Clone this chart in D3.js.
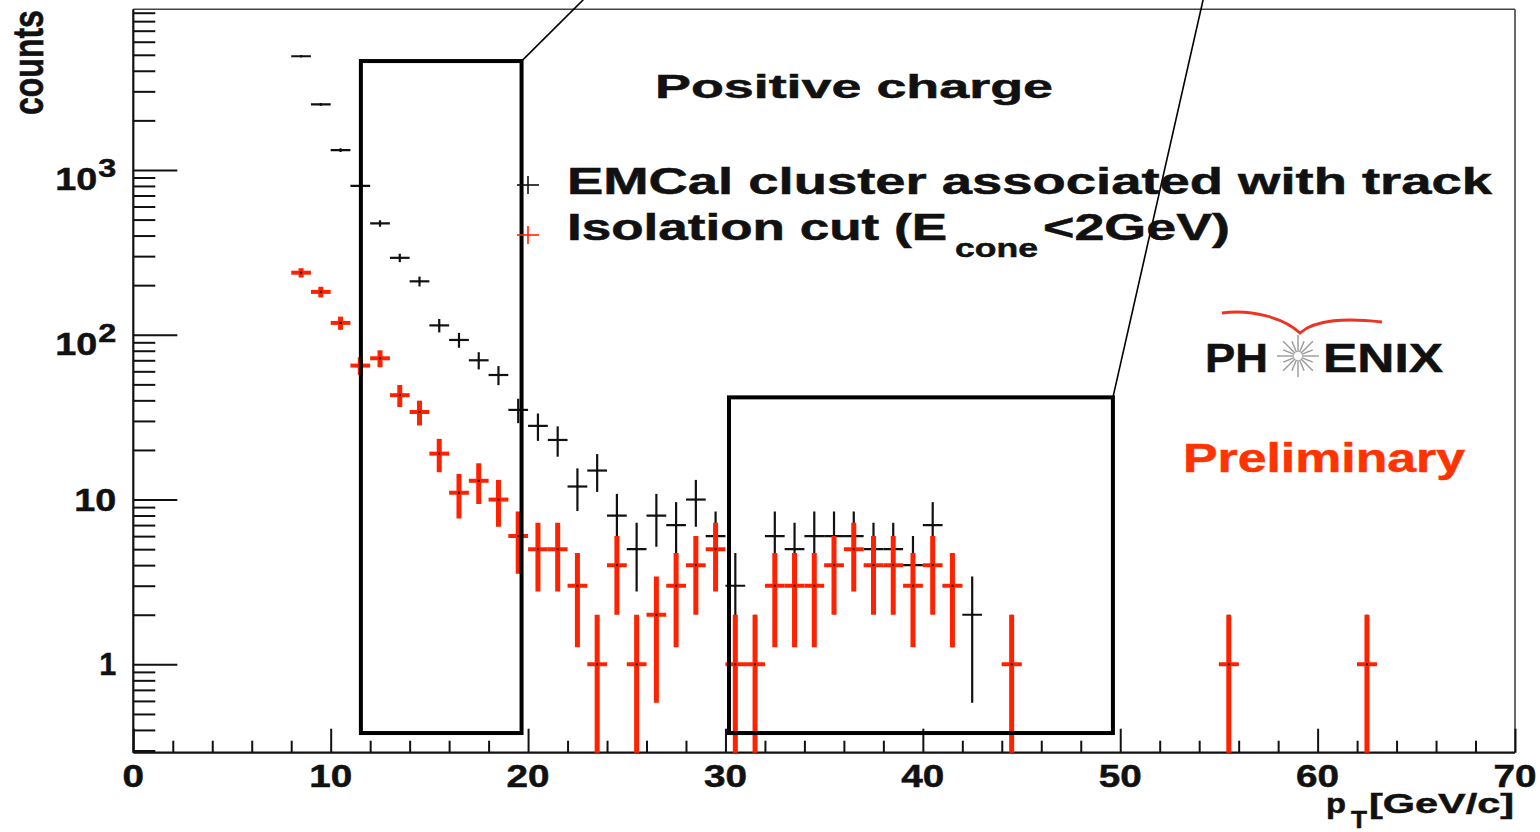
<!DOCTYPE html>
<html>
<head>
<meta charset="utf-8">
<script src="https://cdnjs.cloudflare.com/ajax/libs/d3/7.8.5/d3.min.js"></script>
<style>
  body { margin: 0; background: #fff; }
  text { font-family: 'Liberation Sans', Arial, Helvetica, sans-serif; font-weight: bold; }
</style>
</head>
<body>
<div id="chart"></div>
<script>
// pT bin centres [GeV/c] and counts (1 GeV bins)
const ptTrack = [8.5, 9.5, 10.5, 11.5, 12.5, 13.5, 14.5, 15.5, 16.5, 17.5, 18.5, 19.5, 20.5, 21.5, 22.5, 23.5, 24.5, 25.5, 26.5, 27.5, 28.5, 29.5, 30.5, 31.5, 32.5, 33.5, 34.5, 35.5, 36.5, 37.5, 38.5, 39.5, 40.5, 41.5, 42.5, 44.5, 55.5, 62.5]
const countsTrack = [4900, 2500, 1320, 800, 474, 293, 211, 114, 93, 70, 57, 35, 28, 23, 12, 15, 8, 5, 8, 7, 10, 6, 3, 1, 6, 5, 6, 6, 6, 5, 5, 4, 7, 3, 2, 1, 1, 1]

const ptIso = [8.5, 9.5, 10.5, 11.5, 12.5, 13.5, 14.5, 15.5, 16.5, 17.5, 18.5, 19.5, 20.5, 21.5, 22.5, 23.5, 24.5, 25.5, 26.5, 27.5, 28.5, 29.5, 30.5, 31.5, 32.5, 33.5, 34.5, 35.5, 36.5, 37.5, 38.5, 39.5, 40.5, 41.5, 44.5, 55.5, 62.5]
const countsIso = [238, 182, 118, 65, 72, 43, 34, 19, 11, 13, 10, 6, 5, 5, 3, 1, 4, 1, 2, 3, 4, 5, 1, 1, 3, 3, 3, 4, 5, 4, 4, 3, 4, 3, 1, 1, 1]

const binHalf = 0.5

// axis ranges and tick labels
const xDomain = [0, 70]
const yDomain = [0.291, 9440]
const xMajor = [0, 10, 20, 30, 40, 50, 60, 70]
const xMinorStep = 2
const yMajor = [1, 10, 100, 1000]
const yMajorLabels = ['1', '10', '10', '10']
const yMajorExp = ['', '', '2', '3']

// zoom boxes drawn on top of the plot: [pT from, pT to, counts low, counts high], plus where the lead line goes
const zoomBoxes = [
  { x0: 11.53, x1: 19.67, y0: 0.383, y1: 4580, lineTo: [22.8, 10800] },
  { x0: 30.18, x1: 49.63, y0: 0.383, y1: 41.7, lineTo: [54.2, 10800] }
]

const margin = { top: 9.3, right: 25, bottom: 79.3, left: 133.3 }
const width = 1540 - margin.left - margin.right
const height = 832 - margin.top - margin.bottom

const root = d3.select('#chart')
  .append('svg')
  .attr('width', 1540)
  .attr('height', 832)

const svg = root.append('g')
  .attr('transform', 'translate(' + margin.left + ',' + margin.top + ')')

const x = d3.scaleLinear().domain(xDomain).range([0, width])
const y = d3.scaleLog().domain(yDomain).range([height, 0])

// minor ticks for the log axis: 2..9 in every decade that is on the plot
const yMinor = []
for (let p = -1; p <= 3; p++) {
  for (let m = 2; m <= 9; m++) {
    const v = m * Math.pow(10, p)
    if (v >= yDomain[0] && v <= yDomain[1]) yMinor.push(v)
  }
}
const xMinor = d3.range(xDomain[0], xDomain[1] + 0.1, xMinorStep).filter(function (v) { return v % 10 !== 0 })

// frame
svg.append('line').attr('x1', 0).attr('x2', width).attr('y1', 0).attr('y2', 0)
  .attr('stroke', '#444').attr('stroke-width', 1.6)
svg.append('line').attr('x1', width).attr('x2', width).attr('y1', 0).attr('y2', height)
  .attr('stroke', '#444').attr('stroke-width', 1.6)

// ticks, pointing into the frame
function ticks (axis) {
  return function (g) {
    g.call(axis)
    g.select('.domain').remove()
    g.selectAll('.tick line').attr('stroke', '#111').attr('stroke-width', 2)
    g.selectAll('.tick text').remove()
  }
}
svg.append('g').call(ticks(d3.axisRight(y).tickValues(yMajor).tickSize(44)))
svg.append('g').call(ticks(d3.axisRight(y).tickValues(yMinor).tickSize(22)))
svg.append('g').attr('transform', 'translate(0,' + height + ')')
  .call(ticks(d3.axisTop(x).tickValues(xMajor).tickSize(24)))
svg.append('g').attr('transform', 'translate(0,' + height + ')')
  .call(ticks(d3.axisTop(x).tickValues(xMinor).tickSize(12)))

// axis lines
svg.append('line').attr('x1', 0).attr('x2', 0).attr('y1', 0).attr('y2', height)
  .attr('stroke', '#111').attr('stroke-width', 2.2)
svg.append('line').attr('x1', 0).attr('x2', width).attr('y1', height).attr('y2', height)
  .attr('stroke', '#111').attr('stroke-width', 2.2)

// bold text helper, with a thin outline so the glyphs look as heavy as the original
function label (parent, txt, xPos, yPos, size, len, colour) {
  const t = parent.append('text')
    .attr('x', xPos)
    .attr('y', yPos)
    .attr('font-size', size)
    .attr('fill', colour || '#111')
    .attr('stroke', colour || '#111')
    .attr('stroke-width', 0.5)
    .text(txt)
  if (len) t.attr('textLength', len).attr('lengthAdjust', 'spacingAndGlyphs')
  return t
}

// y tick labels
yMajor.forEach(function (v, i) {
  const hasExp = yMajorExp[i] !== ''
  label(svg, yMajorLabels[i], hasExp ? -36 : -17, y(v) + (hasExp ? 20 : 11), 32,
    yMajorLabels[i].length === 1 ? 17 : 42)
    .attr('text-anchor', 'end')
  if (hasExp) label(svg, yMajorExp[i], -35, y(v) + 7, 26, 18)
})

// x tick labels
xMajor.forEach(function (v) {
  const s = String(v)
  label(svg, s, x(v), height + 34, 31, s.length * 21.5)
    .attr('text-anchor', 'middle')
})

// axis titles
label(root, 'counts', 0, 0, 32, null)
  .attr('transform', 'translate(43,115) rotate(-90) scale(1,1.3)')

label(root, 'p', 1326, 813, 28, 20)
label(root, 'T', 1351, 828, 24, 16)
label(root, '[GeV/c]', 1369, 813, 28, 145)

// data
svg.append('clipPath').attr('id', 'plotclip')
  .append('rect').attr('width', width).attr('height', height)

const plot = svg.append('g').attr('clip-path', 'url(#plotclip)')

function drawSeries (pts, counts, colour, vWidth, hWidth) {
  const data = pts.map(function (p, i) { return { pt: p, n: counts[i] } })
  const g = plot.append('g')
  g.selectAll('.ev')
    .data(data)
    .join('line')
    .attr('x1', function (d) { return x(d.pt) })
    .attr('x2', function (d) { return x(d.pt) })
    .attr('y1', function (d) { return y(d.n + Math.sqrt(d.n)) })
    .attr('y2', function (d) { return y(Math.max(d.n - Math.sqrt(d.n), yDomain[0] * 0.5)) })
    .attr('stroke', colour)
    .attr('stroke-width', vWidth)
  g.selectAll('.eh')
    .data(data)
    .join('line')
    .attr('x1', function (d) { return x(d.pt - binHalf) })
    .attr('x2', function (d) { return x(d.pt + binHalf) })
    .attr('y1', function (d) { return y(d.n) })
    .attr('y2', function (d) { return y(d.n) })
    .attr('stroke', colour)
    .attr('stroke-width', hWidth)
  g.selectAll('.dot')
    .data(data)
    .join('rect')
    .attr('x', function (d) { return x(d.pt) - 1 })
    .attr('y', function (d) { return y(d.n) - 1 })
    .attr('width', 2)
    .attr('height', 2)
    .attr('fill', '#111')
}
drawSeries(ptTrack, countsTrack, '#111', 2.2, 2.2)
drawSeries(ptIso, countsIso, '#ff2200', 5, 4)

// zoom boxes and lead lines
zoomBoxes.forEach(function (b) {
  svg.append('rect')
    .attr('x', x(b.x0))
    .attr('y', y(b.y1))
    .attr('width', x(b.x1) - x(b.x0))
    .attr('height', y(b.y0) - y(b.y1))
    .attr('fill', 'none')
    .attr('stroke', '#000')
    .attr('stroke-width', 4)
  svg.append('line')
    .attr('x1', x(b.x1))
    .attr('y1', y(b.y1))
    .attr('x2', x(b.lineTo[0]))
    .attr('y2', y(b.lineTo[1]))
    .attr('stroke', '#000')
    .attr('stroke-width', 1.6)
})

// legend
label(root, 'Positive charge', 655, 98, 33, 398)

const legend = [
  { colour: '#111', y: 185 },
  { colour: '#ff2200', y: 235 }
]
legend.forEach(function (l) {
  root.append('line').attr('x1', 517).attr('x2', 539).attr('y1', l.y).attr('y2', l.y)
    .attr('stroke', l.colour).attr('stroke-width', 1.6)
  root.append('line').attr('x1', 528).attr('x2', 528).attr('y1', l.y - 9).attr('y2', l.y + 9)
    .attr('stroke', l.colour).attr('stroke-width', 1.6)
})
label(root, 'EMCal cluster associated with track', 567, 194, 36, 925)
label(root, 'Isolation cut (E', 567, 240, 36, 380)
label(root, 'cone', 955, 257, 26, 83)
label(root, '<2GeV)', 1043, 240, 36, 187)

// PHENIX logo
const logo = root.append('g')
logo.append('path')
  .attr('d', 'M1222,313 C1252,309 1284,318 1300,333 C1316,319 1346,318 1382,322')
  .attr('fill', 'none')
  .attr('stroke', '#ee3322')
  .attr('stroke-width', 2.8)
label(logo, 'PH', 1205, 372, 40, 63)
label(logo, 'ENIX', 1323, 372, 40, 120)
d3.range(16).forEach(function (k) {
  const a = k * Math.PI / 8
  const r = k % 2 === 0 ? 21 : 16
  logo.append('line')
    .attr('x1', 1298 + 4 * Math.cos(a)).attr('y1', 356 + 4 * Math.sin(a))
    .attr('x2', 1298 + r * Math.cos(a)).attr('y2', 356 + r * Math.sin(a))
    .attr('stroke', '#999').attr('stroke-width', 1.4)
})

label(root, 'Preliminary', 1183, 472, 40, 282, '#ff3300')
</script>
</body>
</html>
